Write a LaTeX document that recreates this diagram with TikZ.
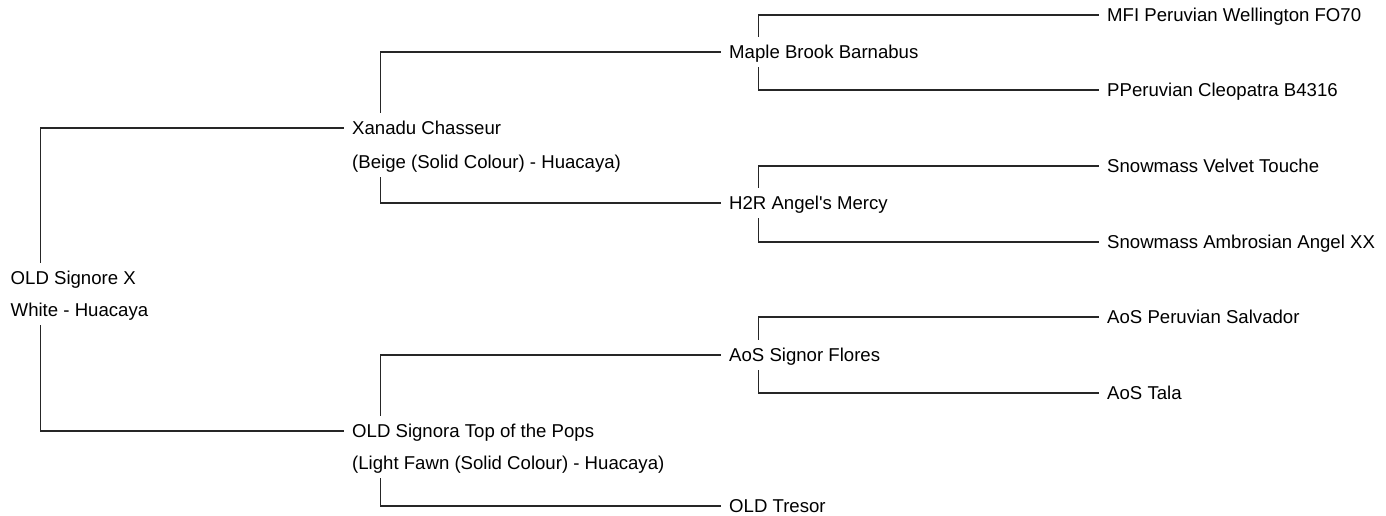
\documentclass[tikz,border=0pt]{standalone}
\usepackage{fontspec}
\setmainfont{Liberation Sans}[Ligatures=TeXOff]
\usetikzlibrary{calc}
\begin{document}
\begin{tikzpicture}[x=1pt,y=-1pt,
  person/.style={anchor=west, inner xsep=8pt, inner ysep=8.3pt,
    text height=13.4pt, text depth=0pt, font=\fontsize{18.6}{22}\selectfont},
  link/.style={line width=1.2pt, draw=black!85}]
\useasboundingbox (0,0) rectangle (1386,515);
% generation 0
\node[person] (root)  at (2.5,278) {OLD Signore X};
\node[person] (rootc) at (2.5,310) {White - Huacaya};
% generation 1
\node[person] (xan)  at (344,128) {Xanadu Chasseur};
\node[person] (xanc) at (344,162) {(Beige (Solid Colour) - Huacaya)};
\node[person] (sig)  at (344,431) {OLD Signora Top of the Pops};
\node[person] (sigc) at (344,463) {(Light Fawn (Solid Colour) - Huacaya)};
% generation 2
\node[person] (maple)  at (721,52)  {Maple Brook Barnabus};
\node[person] (h2r)    at (721,203) {H2R Angel's Mercy};
\node[person] (aossf)  at (721,355) {AoS Signor Flores};
\node[person] (tresor) at (721,506) {OLD Tresor};
% generation 3
\node[person] (mfi)  at (1099,15)  {MFI Peruvian Wellington FO70};
\node[person] (pper) at (1099,90)  {PPeruvian Cleopatra B4316};
\node[person] (svt)  at (1099,166) {Snowmass Velvet Touche};
\node[person] (saa)  at (1099,242) {Snowmass Ambrosian Angel XX};
\node[person] (aps)  at (1099,317) {AoS Peruvian Salvador};
\node[person] (tala) at (1099,393) {AoS Tala};
% connectors
\draw[link] ($(root.north west)+(38,0)$) |- (xan.west);
\draw[link] ($(rootc.south west)+(38,0)$) |- (sig.west);
\draw[link] ($(xan.north west)+(36.7,0)$) |- (maple.west);
\draw[link] ($(xanc.south west)+(36.7,0)$) |- (h2r.west);
\draw[link] ($(sig.north west)+(36.7,0)$) |- (aossf.west);
\draw[link] ($(sigc.south west)+(36.7,0)$) |- (tresor.west);
\draw[link] ($(maple.north west)+(37.7,0)$) |- (mfi.west);
\draw[link] ($(maple.south west)+(37.7,0)$) |- (pper.west);
\draw[link] ($(h2r.north west)+(37.7,0)$) |- (svt.west);
\draw[link] ($(h2r.south west)+(37.7,0)$) |- (saa.west);
\draw[link] ($(aossf.north west)+(37.7,0)$) |- (aps.west);
\draw[link] ($(aossf.south west)+(37.7,0)$) |- (tala.west);
\end{tikzpicture}
\end{document}
